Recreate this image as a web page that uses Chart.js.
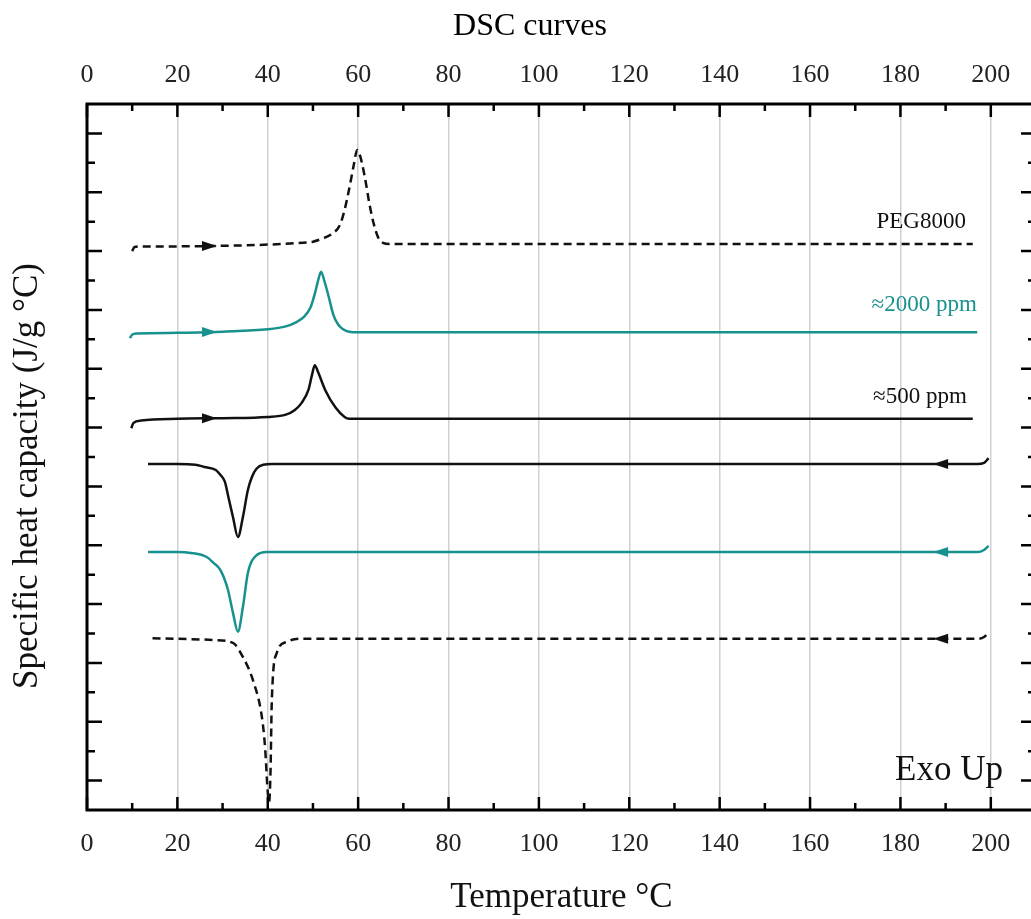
<!DOCTYPE html>
<html>
<head>
<meta charset="utf-8">
<title>DSC curves</title>
<script src="https://cdn.jsdelivr.net/npm/chart.js@4.4.1/dist/chart.umd.min.js"></script>
<style>
  html, body { margin: 0; padding: 0; background: #fff; overflow: hidden; }
  #wrap { width: 1046px; height: 919px; }
</style>
</head>
<body>
<div id="wrap"><canvas id="dsc" width="1046" height="919"></canvas></div>
<script>
// --- axis ticks ---
const xTickValues = [0, 20, 40, 60, 80, 100, 120, 140, 160, 180, 200];
const xMinorValues = [10, 30, 50, 70, 90, 110, 130, 150, 170, 190];
const yMajorValues = [0.5, 1.5, 2.5, 3.5, 4.5, 5.5, 6.5, 7.5, 8.5, 9.5, 10.5, 11.5];
const yMinorValues = [1, 2, 3, 4, 5, 6, 7, 8, 9, 10, 11];

// --- heating runs (arbitrary offset units) ---
const pegHeatT  = [10, 10.5, 12, 20, 30, 40, 45, 50, 52, 54, 56, 57, 58, 59, 59.8, 60.5, 61.5, 62.5, 63.5, 64.5, 65.5, 67, 100, 150, 196];
const pegHeatCp = [9.50, 9.57, 9.58, 9.58, 9.59, 9.61, 9.63, 9.66, 9.71, 9.78, 9.95, 10.2, 10.55, 10.95, 11.22, 11.1, 10.75, 10.3, 9.95, 9.72, 9.64, 9.62, 9.62, 9.62, 9.62];

const hi2000HeatT  = [9.5, 10, 11, 20, 30, 40, 44, 46, 48, 49.5, 50.5, 51.2, 51.8, 52.5, 53.5, 54.5, 55.5, 56.5, 58, 60, 100, 150, 197];
const hi2000HeatCp = [8.02, 8.08, 8.10, 8.11, 8.13, 8.17, 8.22, 8.28, 8.38, 8.55, 8.80, 9.02, 9.15, 9.00, 8.72, 8.42, 8.26, 8.18, 8.13, 8.12, 8.12, 8.12, 8.12];

const lo500HeatT  = [9.8, 10.3, 12, 20, 30, 40, 44, 46, 47.5, 49, 49.8, 50.4, 51.2, 52.7, 55, 57, 58, 100, 150, 196];
const lo500HeatCp = [6.49, 6.58, 6.62, 6.65, 6.66, 6.68, 6.72, 6.80, 6.92, 7.14, 7.40, 7.56, 7.43, 7.14, 6.84, 6.68, 6.65, 6.65, 6.65, 6.65];

// --- cooling runs ---
const lo500CoolT  = [13.5, 20, 24, 26, 28.5, 29.5, 30.5, 31.2, 32.3, 33.4, 34.5, 35.6, 36.5, 37.5, 39, 41, 100, 150, 197, 198.5, 199.5];
const lo500CoolCp = [5.88, 5.88, 5.87, 5.83, 5.78, 5.70, 5.58, 5.35, 4.98, 4.64, 4.98, 5.44, 5.66, 5.80, 5.87, 5.88, 5.88, 5.88, 5.88, 5.90, 5.98];

const hi2000CoolT  = [13.5, 20, 23, 26.5, 28, 29.5, 31.2, 32.3, 33.4, 34.5, 35.6, 37.5, 39.8, 100, 150, 197, 198.5, 199.5];
const hi2000CoolCp = [4.385, 4.385, 4.37, 4.30, 4.20, 4.08, 3.74, 3.35, 3.03, 3.45, 4.03, 4.33, 4.385, 4.385, 4.385, 4.385, 4.42, 4.49];

const pegCoolT  = [14.5, 20, 28, 32.3, 34.5, 36.7, 38.7, 39.4, 40.0, 40.3, 40.6, 40.9, 42.0, 44.2, 47.1, 100, 150, 197, 198.5, 199.5];
const pegCoolCp = [2.92, 2.91, 2.89, 2.84, 2.60, 2.21, 1.58, 1.07, 0.30, 0.14, 0.63, 1.87, 2.67, 2.86, 2.91, 2.91, 2.91, 2.91, 2.94, 3.01];

// direction arrows on each run (temperature where the head sits, +1 right / -1 left)
const arrowT = [27, 27, 27, 189, 189, 189];
const arrowDir = [1, 1, 1, -1, -1, -1];

const TEAL = '#17918d';
const serif = '"Liberation Serif", "Times New Roman", serif';

const toPoints = (ts, vs) => ts.map((t, i) => ({ x: t, y: vs[i] }));

const runs = [
    { label: 'PEG8000 heating', t: pegHeatT, cp: pegHeatCp, color: '#111', dash: [8, 5] },
    { label: '≈2000 ppm heating', t: hi2000HeatT, cp: hi2000HeatCp, color: TEAL, dash: [] },
    { label: '≈500 ppm heating', t: lo500HeatT, cp: lo500HeatCp, color: '#111', dash: [] },
    { label: '≈500 ppm cooling', t: lo500CoolT, cp: lo500CoolCp, color: '#111', dash: [] },
    { label: '≈2000 ppm cooling', t: hi2000CoolT, cp: hi2000CoolCp, color: TEAL, dash: [] },
    { label: 'PEG8000 cooling', t: pegCoolT, cp: pegCoolCp, color: '#111', dash: [8, 5] }
];

// linear lookup of a run value at temperature t (for arrow placement)
const valueAt = (ts, vs, t) => {
    for (let i = 1; i < ts.length; i++) {
        if (t <= ts[i]) {
            const f = (t - ts[i - 1]) / (ts[i] - ts[i - 1]);
            return vs[i - 1] + f * (vs[i] - vs[i - 1]);
        }
    }
    return vs[vs.length - 1];
};

// text labels placed in data coordinates
const notes = [
    { text: 'PEG8000', t: 194.5, v: 9.99, color: '#111', size: 23, align: 'right' },
    { text: '≈2000 ppm', t: 196.9, v: 8.58, color: TEAL, size: 23, align: 'right' },
    { text: '≈500 ppm', t: 194.7, v: 7.02, color: '#111', size: 23, align: 'right' },
    { text: 'Exo Up', t: 178.8, v: 0.66, color: '#111', size: 35, align: 'left' }
];

const framePlugin = {
    id: 'frameAndMarks',
    afterDatasetsDraw(chart) {
        const { ctx, chartArea: a, scales: { x, y } } = chart;
        ctx.save();

        // arrow heads
        runs.forEach((r, i) => {
            const px = x.getPixelForValue(arrowT[i]);
            const py = y.getPixelForValue(valueAt(r.t, r.cp, arrowT[i]));
            const d = arrowDir[i];
            ctx.fillStyle = r.color;
            ctx.beginPath();
            ctx.moveTo(px + d * 8, py);
            ctx.lineTo(px - d * 7, py - 5);
            ctx.lineTo(px - d * 7, py + 5);
            ctx.closePath();
            ctx.fill();
        });

        // frame
        ctx.strokeStyle = '#000';
        ctx.lineWidth = 3;
        ctx.strokeRect(a.left, a.top, a.right - a.left, a.bottom - a.top);

        // inward ticks
        ctx.lineWidth = 2.5;
        ctx.beginPath();
        const xTick = (v, len) => {
            const px = x.getPixelForValue(v);
            ctx.moveTo(px, a.top); ctx.lineTo(px, a.top + len);
            ctx.moveTo(px, a.bottom); ctx.lineTo(px, a.bottom - len);
        };
        const yTick = (v, len) => {
            const py = y.getPixelForValue(v);
            ctx.moveTo(a.left, py); ctx.lineTo(a.left + len, py);
            ctx.moveTo(a.right, py); ctx.lineTo(a.right - len, py);
        };
        xTickValues.forEach(v => xTick(v, 13));
        xMinorValues.forEach(v => xTick(v, 7));
        yMajorValues.forEach(v => yTick(v, 15));
        yMinorValues.forEach(v => yTick(v, 8));
        ctx.stroke();

        // curve labels
        notes.forEach(n => {
            ctx.font = `${n.size}px ${serif}`;
            ctx.fillStyle = n.color;
            ctx.textAlign = n.align;
            ctx.textBaseline = 'middle';
            ctx.fillText(n.text, x.getPixelForValue(n.t), y.getPixelForValue(n.v));
        });

        // chart title and y title
        ctx.fillStyle = '#000';
        ctx.textAlign = 'center';
        ctx.textBaseline = 'middle';
        ctx.font = `32px ${serif}`;
        ctx.fillText('DSC curves', 530, 27);
        ctx.translate(28, 476);
        ctx.rotate(-Math.PI / 2);
        ctx.font = `35px ${serif}`;
        ctx.fillStyle = '#111';
        ctx.fillText('Specific heat capacity (J/g °C)', 0, 0);
        ctx.restore();
    }
};

const xTickCommon = {
    font: { family: serif, size: 26 },
    color: '#222'
};

new Chart(document.getElementById('dsc'), {
    type: 'line',
    data: {
        datasets: runs.map(r => ({
            label: r.label,
            data: toPoints(r.t, r.cp),
            borderColor: r.color,
            backgroundColor: r.color,
            borderWidth: 2.5,
            borderDash: r.dash,
            pointRadius: 0,
            cubicInterpolationMode: 'monotone',
            fill: false
        }))
    },
    options: {
        responsive: false,
        animation: false,
        layout: { padding: { left: 87, right: 10, top: 0, bottom: 0 } },
        plugins: {
            legend: { display: false },
            tooltip: { enabled: false },
            title: { display: false }
        },
        scales: {
            x: {
                type: 'linear',
                position: 'bottom',
                min: 0,
                max: 210,
                afterBuildTicks: s => { s.ticks = xTickValues.map(v => ({ value: v })); },
                afterFit: s => { s.height = 109; },
                grid: { color: '#d0d0d0', lineWidth: 1.5, drawTicks: false },
                border: { display: false },
                ticks: { ...xTickCommon, padding: 19, maxRotation: 0 },
                title: {
                    display: true,
                    text: 'Temperature °C',
                    font: { family: serif, size: 35 },
                    color: '#111',
                    padding: { top: 0, bottom: 0 }
                }
            },
            x2: {
                type: 'linear',
                position: 'top',
                min: 0,
                max: 210,
                afterBuildTicks: s => { s.ticks = xTickValues.map(v => ({ value: v })); },
                afterFit: s => { s.height = 104; },
                grid: { display: false, drawTicks: false },
                border: { display: false },
                ticks: { ...xTickCommon, padding: 13, maxRotation: 0 }
            },
            y: {
                type: 'linear',
                display: false,
                min: 0,
                max: 12
            }
        }
    },
    plugins: [framePlugin]
});
</script>
</body>
</html>
